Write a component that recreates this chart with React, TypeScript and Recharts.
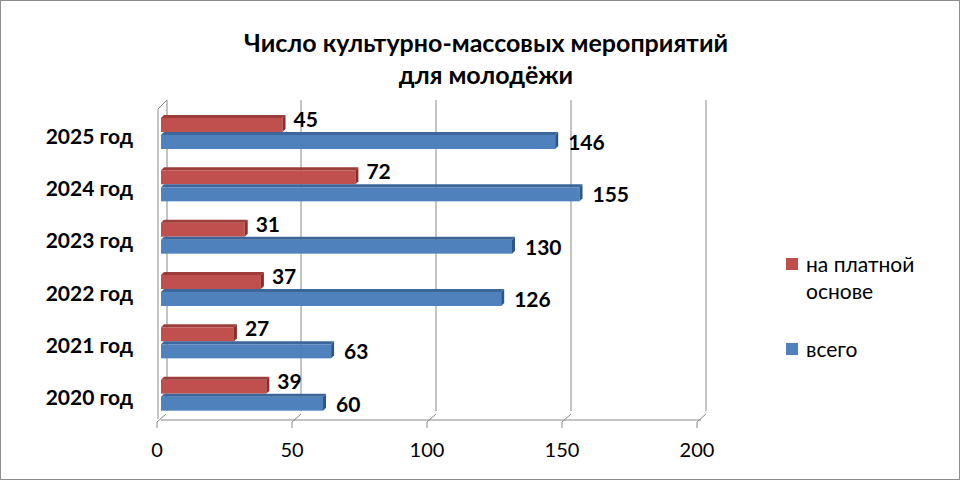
import { BarChart, Bar, XAxis, YAxis, CartesianGrid, Legend, LabelList } from "recharts";

const years = ["2025 год", "2024 год", "2023 год", "2022 год", "2021 год", "2020 год"];
const paid = [45, 72, 31, 37, 27, 39];
const total = [146, 155, 130, 126, 63, 60];
const xTicks = [0, 50, 100, 150, 200];
const xMax = 200;

const data = years.map((year, i) => ({ year, paid: paid[i], total: total[i] }));

const FONT = "Lato, 'Open Sans', sans-serif";
const DEPTH = 3;

// fake 3D bar: front face, top face, right side
function Bar3D(props: any) {
  const { x, y, width, height, fill, top, side } = props;
  if (!width || width <= 0) return null;
  const d = DEPTH;
  return (
    <g>
      <rect x={x} y={y + d} width={width} height={height - d} fill={fill} />
      <polygon
        points={`${x},${y + d} ${x + d},${y} ${x + width + d},${y} ${x + width},${y + d}`}
        fill={top}
      />
      <polygon
        points={`${x + width},${y + d} ${x + width + d},${y} ${x + width + d},${y + height - d} ${x + width},${y + height}`}
        fill={side}
      />
    </g>
  );
}

function valueLabel(dy: number, dx: number) {
  return (props: any) => {
    const { x, y, width, height, value } = props;
    return (
      <text
        x={x + width + dx}
        y={y + height / 2 + dy}
        dominantBaseline="central"
        fontFamily={FONT}
        fontWeight={700}
        fontSize={21}
        fill="#000"
      >
        {value}
      </text>
    );
  };
}

// front-floor ticks with a short diagonal to the back wall
function FloorTick(props: any) {
  const { x, y, payload } = props;
  return (
    <g>
      <line x1={x - 4} y1={y - 6} x2={x - 4} y2={y} stroke="#888" />
      <line x1={x - 4} y1={y - 6} x2={x + 5} y2={y - 14} stroke="#888" />
      <text x={x - 4} y={y + 29} textAnchor="middle" fontFamily={FONT} fontSize={20} fill="#000">
        {payload.value}
      </text>
    </g>
  );
}

function YearTick(props: any) {
  const { x, y, payload } = props;
  return (
    <text x={x - 20} y={y + 3} textAnchor="end" dominantBaseline="central" fontFamily={FONT} fontWeight={700} fontSize={21} fill="#000">
      {payload.value}
    </text>
  );
}

function LegendBox(props: any) {
  const items = [...(props.payload || [])].reverse();
  return (
    <div style={{ fontFamily: FONT, fontSize: 21, color: "#000", width: 170 }}>
      {items.map((it: any, i: number) => (
        <div key={it.value} style={{ display: "flex", alignItems: "flex-start", marginBottom: i === 0 ? 31 : 0, lineHeight: "27px" }}>
          <span style={{ display: "inline-block", width: 12, height: 12, background: it.color, marginTop: 8, marginRight: 8, flex: "none" }} />
          <span>{it.value}</span>
        </div>
      ))}
    </div>
  );
}

export default function App() {
  return (
    <div style={{ position: "absolute", left: 0, top: 0, width: 960, height: 480, boxSizing: "border-box", border: "1px solid #8c8c8c", background: "#fff" }}>
      <div style={{ position: "absolute", left: 0, top: 25, width: 970, textAlign: "center", fontFamily: FONT, fontWeight: 700, fontSize: 25, lineHeight: "32px", color: "#000" }}>
        Число культурно-массовых мероприятий
        <br />
        для молодёжи
      </div>
      <svg width={960} height={480} style={{ position: "absolute", left: 0, top: 0 }}>
        {/* left wall edges */}
        <line x1={157} y1={108} x2={157} y2={418} stroke="#888" />
        <line x1={157} y1={108} x2={166} y2={99} stroke="#888" />
        <line x1={166} y1={99} x2={166} y2={410} stroke="#888" />
      </svg>
      <BarChart
        width={960}
        height={480}
        data={data}
        layout="vertical"
        margin={{ top: 105, right: 100, left: 0, bottom: 21 }}
        barSize={17}
        barGap={0}
        style={{ position: "absolute", left: 0, top: 0 }}
      >
        <CartesianGrid
          horizontal={false}
          stroke="#888"
          verticalCoordinatesGenerator={({ offset }: any) =>
            xTicks.slice(1).map((t) => offset.left + (t / xMax) * offset.width + 5)
          }
          y={99}
          height={311}
        />
        <XAxis
          type="number"
          domain={[0, xMax]}
          ticks={xTicks}
          axisLine={{ stroke: "#888" }}
          tickLine={false}
          tick={<FloorTick />}
          height={40}
          interval={0}
        />
        <YAxis type="category" dataKey="year" width={160} axisLine={false} tickLine={false} tick={<YearTick />} />
        <Legend
          layout="vertical"
          align="right"
          verticalAlign="top"
          wrapperStyle={{ left: 785, top: 249, width: 160 }}
          content={<LegendBox />}
        />
        <Bar
          dataKey="paid"
          name="на платной основе"
          fill="#C0504D"
          shape={<Bar3D top="#9C3D3A" side="#8A2E2C" />}
          isAnimationActive={false}
        >
          <LabelList dataKey="paid" content={valueLabel(-5, 11)} />
        </Bar>
        <Bar
          dataKey="total"
          name="всего"
          fill="#4F81BD"
          shape={<Bar3D top="#3D679B" side="#2E5584" />}
          isAnimationActive={false}
        >
          <LabelList dataKey="total" content={valueLabel(1, 13)} />
        </Bar>
      </BarChart>
    </div>
  );
}
